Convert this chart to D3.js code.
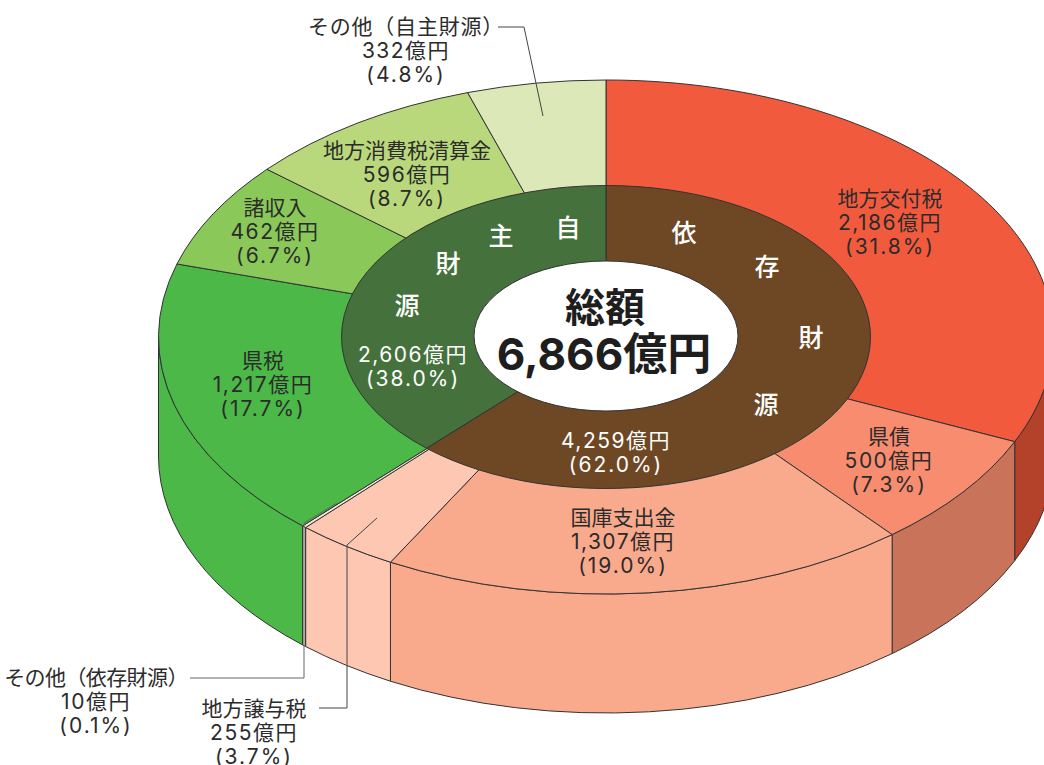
<!DOCTYPE html>
<html lang="ja">
<head>
<meta charset="utf-8">
<title>歳入の内訳</title>
<script src="https://cdn.jsdelivr.net/npm/d3@7"></script>
<style>
  html, body { margin: 0; padding: 0; background: #fff; overflow: hidden; }
  svg { display: block; }
  text { font-family: Inter, "Noto Sans CJK JP", sans-serif; text-anchor: middle; fill: #2b2b2b; }
</style>
</head>
<body>
<svg id="chart" width="1044" height="765"></svg>
<script>
// Data, clockwise from 12 o'clock
var categories = ["地方交付税", "県債", "国庫支出金", "地方譲与税", "その他（依存財源）", "県税", "諸収入", "地方消費税清算金", "その他（自主財源）"];
var values = [2186, 500, 1307, 255, 10, 1217, 462, 596, 332];
var percents = ["31.8", "7.3", "19.0", "3.7", "0.1", "17.7", "6.7", "8.7", "4.8"];
var ringNames = ["依存財源", "自主財源"];
var ringValues = [4259, 2606];
var ringPercents = ["62.0", "38.0"];
var totalName = "総額";
var totalValue = 6866;

// Colours, same order as above
var topColors = ["#f25a3e", "#f88c6f", "#f9a98c", "#fdc7b1", "#fde6dc", "#4cb848", "#8ac85a", "#b9d87b", "#dce8b8"];
var wallColors = ["#b4412a", "#c9745a", "#f9a98c", "#fdc7b1", "#fde6dc", "#4cb848", "#8ac85a", "#b9d87b", "#dce8b8"];
var ringColors = ["#6e4824", "#45713c"];

// Ellipses of the tilted donut
var cx = 606, cy = 337, depth = 119;
var outer = { rx: 447.5, ry: 257 };
var ring = { rx: 264.5, ry: 151.5 };
var hole = { rx: 132, ry: 75 };

// The original is drawn about 0.6 degrees behind the numbers, except for the 12 o'clock line
var angleOffset = -0.6 * Math.PI / 180;
var fullTurn = 2 * Math.PI;

// Where the label blocks sit (centre x, first baseline y)
var labelSpots = [[890, 206], [889, 444], [623, 525], [254, 716], [96, 685], [263, 368], [275, 215], [407, 158], [406, 34]];
var ringLabelSpots = [[616, 448], [413, 362]];
// Squeeze or stretch the two long その他 names to the original's width
var nameSpacing = [0, 0, 0, 0, -0.6, 0, 0, 0, 0.8];
var ringChars = [
  { ch: "依", x: 684, y: 242 }, { ch: "存", x: 767, y: 276 }, { ch: "財", x: 811, y: 347 }, { ch: "源", x: 766, y: 414 },
  { ch: "自", x: 568, y: 237 }, { ch: "主", x: 501, y: 245 }, { ch: "財", x: 448, y: 273 }, { ch: "源", x: 407, y: 315 }
];

var svg = d3.select("#chart");
var fmt = d3.format(",");
var pie = d3.pie().sort(null).value(function(d) { return d; })
  .startAngle(angleOffset).endAngle(fullTurn + angleOffset);

// Pie angles, with the ends pinned back to 12 o'clock
function pinned(data) {
  return pie(data).map(function(d, i) {
    d.startAngle = i === 0 ? 0 : d.startAngle;
    d.endAngle = i === data.length - 1 ? fullTurn : d.endAngle;
    return d;
  });
}
var slices = pinned(values);
var ringSlices = pinned(ringValues);

function px(a, e) { return cx + e.rx * Math.sin(a); }
function py(a, e, dy) { return cy - e.ry * Math.cos(a) + (dy || 0); }

// Elliptical wedge, clockwise from a0 to a1
function wedge(a0, a1, e) {
  var large = a1 - a0 > Math.PI ? 1 : 0;
  return "M" + cx + "," + cy + "L" + px(a0, e) + "," + py(a0, e) +
    "A" + e.rx + "," + e.ry + " 0 " + large + " 1 " + px(a1, e) + "," + py(a1, e) + "Z";
}

// Outside wall under the rim, only the front half shows
function wall(a0, a1, e, h) {
  var s = Math.max(a0, Math.PI / 2), t = Math.min(a1, Math.PI * 1.5);
  if (t <= s) return null;
  return "M" + px(s, e) + "," + py(s, e) +
    "A" + e.rx + "," + e.ry + " 0 0 1 " + px(t, e) + "," + py(t, e) +
    "L" + px(t, e) + "," + py(t, e, h) +
    "A" + e.rx + "," + e.ry + " 0 0 0 " + px(s, e) + "," + py(s, e, h) + "Z";
}

var lineColor = "#333";

// Walls
svg.append("g").selectAll("path")
  .data(slices.filter(function(d) { return wall(d.startAngle, d.endAngle, outer, depth); }))
  .join("path")
  .attr("d", function(d) { return wall(d.startAngle, d.endAngle, outer, depth); })
  .attr("fill", function(d) { return wallColors[d.index]; })
  .attr("stroke", lineColor)
  .attr("stroke-width", 1);

// Top of outer ring
svg.append("g").selectAll("path")
  .data(slices)
  .join("path")
  .attr("d", function(d) { return wedge(d.startAngle, d.endAngle, outer); })
  .attr("fill", function(d) { return topColors[d.index]; })
  .attr("stroke", lineColor)
  .attr("stroke-width", 1);

// Inner ring
svg.append("g").selectAll("path")
  .data(ringSlices)
  .join("path")
  .attr("d", function(d) { return wedge(d.startAngle, d.endAngle, ring); })
  .attr("fill", function(d) { return ringColors[d.index]; })
  .attr("stroke", lineColor)
  .attr("stroke-width", 1);

// Hole in the middle
svg.append("ellipse")
  .attr("cx", cx).attr("cy", cy - 1)
  .attr("rx", hole.rx).attr("ry", hole.ry)
  .attr("fill", "#fff")
  .attr("stroke", lineColor)
  .attr("stroke-width", 1);

// Leader lines
var leaders = [
  { pts: [[498, 27], [524, 27], [543, 116]], color: "#444" },
  { pts: [[377, 518], [347, 545], [347, 708], [319, 708]], color: "#444" },
  { pts: [[337, 503], [304, 523], [304, 678], [190, 678]], color: "#666" }
];
var leaderLine = d3.line();
svg.append("g").selectAll("path")
  .data(leaders)
  .join("path")
  .attr("d", function(d) { return leaderLine(d.pts); })
  .attr("fill", "none")
  .attr("stroke", function(d) { return d.color; })
  .attr("stroke-width", 1);

// Outer labels, three lines each
var lineGap = 24;
var labels = svg.append("g").selectAll("text")
  .data(categories)
  .join("text")
  .attr("font-size", 21);
labels.each(function(name, i) {
  var t = d3.select(this);
  t.append("tspan").attr("x", labelSpots[i][0]).attr("y", labelSpots[i][1])
    .style("letter-spacing", nameSpacing[i] + "px").text(name);
  t.append("tspan").attr("x", labelSpots[i][0]).attr("y", labelSpots[i][1] + lineGap)
    .style("letter-spacing", "1.5px").text(fmt(values[i]) + "億円");
  t.append("tspan").attr("x", labelSpots[i][0]).attr("y", labelSpots[i][1] + 2 * lineGap)
    .style("letter-spacing", "2px").text("(" + percents[i] + "%)");
});

// Ring labels
svg.append("g").selectAll("text")
  .data(ringNames)
  .join("text")
  .attr("font-size", 21)
  .style("fill", "#fff")
  .each(function(name, i) {
    var t = d3.select(this);
    t.append("tspan").attr("x", ringLabelSpots[i][0]).attr("y", ringLabelSpots[i][1])
      .style("letter-spacing", "1.5px").text(fmt(ringValues[i]) + "億円");
    t.append("tspan").attr("x", ringLabelSpots[i][0]).attr("y", ringLabelSpots[i][1] + lineGap)
      .style("letter-spacing", "2px").text("(" + ringPercents[i] + "%)");
  });

svg.append("g").selectAll("text")
  .data(ringChars)
  .join("text")
  .attr("x", function(d) { return d.x; })
  .attr("y", function(d) { return d.y; })
  .attr("font-size", 25)
  .attr("font-weight", 500)
  .style("fill", "#fff")
  .text(function(d) { return d.ch; });

// Total in the hole
svg.append("text")
  .attr("x", 605).attr("y", 322)
  .attr("font-size", 40).attr("font-weight", 700)
  .style("fill", "#1e1e1e")
  .text(totalName);
svg.append("text")
  .attr("x", 604).attr("y", 370)
  .attr("font-size", 44).attr("font-weight", 700)
  .style("fill", "#1e1e1e")
  .text(fmt(totalValue) + "億円");
</script>
</body>
</html>
